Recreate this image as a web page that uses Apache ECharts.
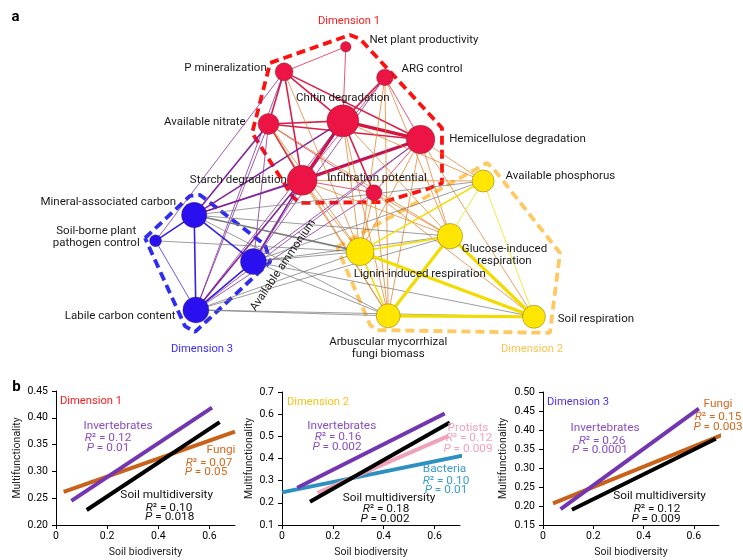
<!DOCTYPE html>
<html><head><meta charset="utf-8">
<script src="https://cdn.jsdelivr.net/npm/echarts@6/dist/echarts.min.js"></script>
<style>html,body{margin:0;padding:0;background:#fff}#c{width:743px;height:560px}</style>
</head><body><div id="c"></div>
<script>
const F = 'Roboto, "Liberation Sans", Arial, sans-serif';

// ---------------- Panel a : network data ----------------
const nodeKeys = ['NPP','Pmin','ARG','Chitin','Nitrate','Hemi','Starch','Infil','MinC','Pathogen','Ammonium','Labile','AvailP','Glucose','Lignin','AMF','SoilResp'];
const nodeLabels = ['Net plant productivity','P mineralization','ARG control','Chitin degradation','Available nitrate','Hemicellulose degradation','Starch degradation','Infiltration potential','Mineral-associated carbon','Soil-borne plant\npathogen control','Available ammonium','Labile carbon content','Available phosphorus','Glucose-induced\nrespiration','Lignin-induced respiration','Arbuscular mycorrhizal\nfungi biomass','Soil respiration'];
const nodeDimension = [1,1,1,1,1,1,1,1,3,3,3,3,2,2,2,2,2];
// network layout coordinates (0-100 layout frame)
const layoutX = [49.0,34.3,58.3,48.3,30.6,66.8,38.6,55.7,12.9,3.7,27.0,13.3,81.7,73.8,52.4,59.1,93.8];
const layoutY = [94.6,86.5,84.7,70.7,69.7,64.7,51.5,47.5,40.3,32.0,25.3,9.7,51.3,33.5,28.5,7.8,7.5];
const nodeWeight = [5.3,9,8.3,16,10.5,14.3,15,8,12.7,6,13,13,11,12.7,14,12,11.5];
const edges = [
 // dimension 1 internal
 ['NPP','Pmin',1],['NPP','Chitin',1],['Pmin','Chitin',2],['Pmin','Nitrate',2],['Pmin','Starch',2],['Pmin','Hemi',2],
 ['ARG','Chitin',2],['ARG','Hemi',1],['ARG','Starch',1],['Chitin','Nitrate',2],['Chitin','Hemi',3],['Chitin','Starch',3],
 ['Chitin','Infil',2],['Nitrate','Hemi',2],['Nitrate','Starch',2],['Nitrate','Infil',1],['Starch','Hemi',3],['Starch','Infil',1],['Hemi','Infil',1],
 // dimension 1 - dimension 3
 ['Nitrate','MinC',2],['Nitrate','Labile',1],['Nitrate','Ammonium',1],['Chitin','MinC',2],['Chitin','Labile',1],['Chitin','Ammonium',1],
 ['Starch','MinC',2],['Starch','Ammonium',2],['Starch','Labile',2],['Hemi','Ammonium',1],['Hemi','Labile',1],['Hemi','MinC',1],
 ['Pmin','Pathogen',1],['Infil','Labile',1],['Pmin','Labile',1],['ARG','Ammonium',1],
 // dimension 1 - dimension 2
 ['Chitin','Lignin',1],['Chitin','AMF',1],['Chitin','Glucose',1],['Chitin','AvailP',1],['Hemi','AvailP',1],['Hemi','Glucose',1],
 ['Hemi','SoilResp',1],['Hemi','Lignin',1],['Hemi','AMF',1],['Starch','Lignin',1],['Starch','AMF',1],['Starch','Glucose',1],
 ['Starch','AvailP',1],['Infil','Lignin',1],['Infil','Glucose',1],['Infil','AMF',1],['Nitrate','Lignin',1],['Nitrate','AMF',1],
 ['Nitrate','Glucose',1],['ARG','Lignin',1],['ARG','Glucose',1],['ARG','AMF',1],['Pmin','Lignin',1],['Infil','SoilResp',1],
 // dimension 2 - dimension 3
 ['MinC','Lignin',2],['MinC','Glucose',1],['MinC','AvailP',1],['MinC','AMF',1],['Pathogen','Lignin',1],['Labile','Lignin',1],
 ['Labile','Glucose',1],['Labile','AMF',1],['Labile','SoilResp',1],['Ammonium','Lignin',1],['Ammonium','Glucose',1],
 ['Ammonium','AMF',1],['Ammonium','AvailP',1],['Ammonium','SoilResp',1],
 // dimension 2 internal
 ['Lignin','AvailP',2],['Lignin','Glucose',2],['Lignin','AMF',2],['Lignin','SoilResp',3],['Glucose','AMF',3],
 ['Glucose','SoilResp',3],['AMF','SoilResp',3],['AvailP','Glucose',1],['AvailP','SoilResp',1],
 // dimension 3 internal
 ['MinC','Pathogen',2],['MinC','Ammonium',2],['MinC','Labile',2],['Labile','Ammonium',2],['Labile','Pathogen',1]
];
const hullDim1 = [[31.0,89.4],[50.0,98.4],[52.4,97.1],[71.9,68.4],[71.9,50.6],[69.0,49.0],[57.9,44.5],[38.1,44.2],[36.4,46.1],[26.7,66.8],[31.0,89.4]];
const hullDim2 = [[46.9,30.0],[82.6,57.1],[84.0,55.5],[100.0,28.1],[97.6,2.3],[56.4,3.2],[54.8,4.8],[46.9,30.0]];
const hullDim3 = [[1.2,32.9],[11.9,46.5],[14.3,46.8],[29.8,30.6],[31.0,25.2],[13.1,2.6],[10.7,4.5],[1.2,32.9]];

// ---------------- Panel b : regression data ----------------
const xTickValues = [0, 0.2, 0.4, 0.6];
const dim1Fungi = [[0.03,0.262],[0.70,0.374]];
const dim1Invertebrates = [[0.06,0.245],[0.61,0.419]];
const dim1Multidiversity = [[0.12,0.228],[0.64,0.392]];
const dim2Bacteria = [[0.0,0.247],[0.72,0.415]];
const dim2Protists = [[0.14,0.245],[0.655,0.502]];
const dim2Invertebrates = [[0.06,0.268],[0.64,0.603]];
const dim2Multidiversity = [[0.11,0.205],[0.66,0.562]];
const dim3Fungi = [[0.04,0.207],[0.73,0.392]];
const dim3Invertebrates = [[0.07,0.192],[0.62,0.456]];
const dim3Multidiversity = [[0.115,0.19],[0.687,0.377]];
const dim1Stats = [['Invertebrates','0.12','0.01'],['Fungi','0.07','0.05'],['Soil multidiversity','0.10','0.018']];
const dim2Stats = [['Invertebrates','0.16','0.002'],['Protists','0.12','0.009'],['Bacteria','0.10','0.01'],['Soil multidiversity','0.18','0.002']];
const dim3Stats = [['Invertebrates','0.26','0.0001'],['Fungi','0.15','0.003'],['Soil multidiversity','0.12','0.009']];
const yRange1 = [0.20, 0.45, 0.05];
const yRange2 = [0.1, 0.7, 0.1];
const yRange3 = [0.15, 0.50, 0.05];

// ---------------- styles ----------------
const dimColor = {1:'#ec1445', 2:'#ffe600', 3:'#2a10ee'};
const pairColor = {'1-1':'#d5153f','1-2':'#e07a22','1-3':'#7b1896','2-2':'#f2dc00','2-3':'#767676','3-3':'#2a16dc'};
const wWidth = {1:0.85, 2:1.6, 3:3.2};
const wOpacity = {1:0.85, 2:0.95, 3:1};
const labelCfg = {
 NPP:{position:'right',distance:18,offset:[0,-7]},
 Pmin:{position:'left',distance:8,offset:[0,-4]},
 ARG:{position:'right',distance:8,offset:[0,-8]},
 Chitin:{position:'top',distance:0},
 Nitrate:{position:'left',distance:12,offset:[0,-2]},
 Hemi:{position:'right',distance:14},
 Starch:{position:'left',distance:0},
 Infil:{position:'top',distance:0,offset:[3,0]},
 MinC:{position:'left',distance:5,offset:[0,-13]},
 Pathogen:{position:'left',distance:9,offset:[-44,-4],align:'center',lineHeight:12},
 Ammonium:{position:[43,17],rotate:56,align:'center',verticalAlign:'middle'},
 Labile:{position:'left',distance:7,offset:[0,6]},
 AvailP:{position:'right',distance:11,offset:[0,-5]},
 Glucose:{position:[67.5,32],align:'center',verticalAlign:'middle',lineHeight:12.4},
 Lignin:{position:[74,37],align:'center',verticalAlign:'middle'},
 AMF:{position:'bottom',distance:8,lineHeight:12},
 SoilResp:{position:'right',distance:12,offset:[0,2]}
};
const dimOf = {};
nodeKeys.forEach((k,i)=>dimOf[k]=nodeDimension[i]);

const nodes = nodeKeys.map((k,i)=>({
  name:k, value:[layoutX[i], layoutY[i]], symbolSize: nodeWeight[i]*2,
  itemStyle:{color:dimColor[nodeDimension[i]], borderColor:'rgba(60,40,20,0.55)', borderWidth:0.6},
  label:Object.assign({show:true, formatter:nodeLabels[i], color:'#1a1a1a', fontSize:11.5, fontFamily:F}, labelCfg[k])
}));
const links = edges.map(e=>{
  const a = dimOf[e[0]], b = dimOf[e[1]];
  const key = Math.min(a,b)+'-'+Math.max(a,b);
  return {source:e[0], target:e[1], lineStyle:{width:wWidth[e[2]], color:pairColor[key], opacity:wOpacity[e[2]], curveness:0}};
});

function hull(data, color){
  return {type:'line', xAxisIndex:3, yAxisIndex:3, data, symbol:'none', clip:false, silent:true, z:1,
    lineStyle:{color, width:3.8, type:[9,5]}};
}

function mkX(gi){
  return {type:'value', gridIndex:gi, min:0, max:0.7, interval:0.2,
    name:'Soil biodiversity', nameLocation:'middle', nameGap:22,
    nameTextStyle:{fontSize:10.5, color:'#222', fontFamily:F},
    axisLine:{show:true, lineStyle:{color:'#000', width:1}},
    axisTick:{show:true, length:4, lineStyle:{color:'#000'}, customValues:xTickValues},
    axisLabel:{color:'#000', fontSize:10.5, fontFamily:F, margin:6, customValues:xTickValues,
      formatter:v=> v===0 ? '0' : v.toFixed(1)},
    splitLine:{show:false}};
}
function mkY(gi, r, digits, gap){
  return {type:'value', gridIndex:gi, min:r[0], max:r[1], interval:r[2],
    name:'Multifunctionality', nameLocation:'middle', nameGap:gap, nameRotate:90,
    nameTextStyle:{fontSize:10.5, color:'#222', fontFamily:F},
    axisLine:{show:true, lineStyle:{color:'#000', width:1}},
    axisTick:{show:true, length:4, lineStyle:{color:'#000'}},
    axisLabel:{color:'#000', fontSize:10.5, fontFamily:F, margin:8, formatter:v=>v.toFixed(digits)},
    splitLine:{show:false}};
}
function reg(gi, data, color, z){
  return {type:'line', xAxisIndex:gi, yAxisIndex:gi, data, symbol:'none', clip:false, silent:true, z:z||2,
    lineStyle:{color, width:4, cap:'butt'}};
}

const C = {purpleLine:'#7436b0', purpleText:'#8a4ec4', orangeLine:'#c8621a', orangeText:'#d2691e',
  pinkLine:'#f0a2b9', pinkText:'#f2a2bd', blueLine:'#2e90c0', blueText:'#3a9cd2', black:'#111'};

function T(x, y, text, color, size, align, weight){
  return {type:'text', x, y, silent:true, z:10,
    style:{text, fill:color, fontSize:size||11.8, fontFamily:F, fontWeight:weight||'normal',
      align:align||'center', verticalAlign:'middle',
      rich:{i:{fontStyle:'italic', fontSize:size||11.8, fontFamily:F, fill:color}}}};
}
function statBlock(s, color, x1, y1, x2, y2, x3, y3){
  return [T(x1,y1,s[0],color), T(x2,y2,'{i|R}\u00b2 = '+s[1],color), T(x3,y3,'{i|P} = '+s[2],color)];
}

const graphics = [
  T(15.5,17,'a','#000',15,'center','bold'),
  T(16.5,387,'b','#000',15,'center','bold'),
  T(349,21,'Dimension 1','#ff1a1a',11.2),
  T(202,349,'Dimension 3','#3d2bff',11.2),
  T(532,349,'Dimension 2','#ffc34d',11.2),
  T(60,401,'Dimension 1','#ff1a1a',11.2,'left'),
  T(287,402,'Dimension 2','#f8c21a',11.2,'left'),
  T(547,402,'Dimension 3','#4a2ff0',11.2,'left'),
  ...statBlock(dim1Stats[0], C.purpleText, 118,425.7, 108,437.7, 108,447.7),
  ...statBlock(dim1Stats[1], C.orangeText, 221,450, 209,463.3, 206,472.3),
  ...statBlock(dim1Stats[2], C.black, 166.7,495, 169,507.7, 169.7,517.3),
  ...statBlock(dim2Stats[0], C.purpleText, 341.7,426, 338,437.3, 337,446.7),
  ...statBlock(dim2Stats[1], C.pinkText, 468,427.7, 469,438.3, 468,449),
  ...statBlock(dim2Stats[2], C.blueText, 444.5,469.3, 446,481, 446,490.3),
  ...statBlock(dim2Stats[3], C.black, 389,498.3, 386,509.3, 385,519),
  ...statBlock(dim3Stats[0], C.purpleText, 605,428.3, 602,440.7, 600,450),
  ...statBlock(dim3Stats[1], C.orangeText, 718,404.3, 718,416.7, 718,426.7),
  ...statBlock(dim3Stats[2], C.black, 659.5,496, 657,509, 656,519)
];

const option = {
  animation:false,
  backgroundColor:'#fff',
  textStyle:{fontFamily:F},
  grid:[
    {left:56, top:391, width:179, height:134, containLabel:false, outerBoundsMode:'none'},
    {left:282, top:392, width:178, height:133, containLabel:false, outerBoundsMode:'none'},
    {left:543, top:392, width:176, height:133, containLabel:false, outerBoundsMode:'none'},
    {left:140, top:30, width:420, height:310, containLabel:false, outerBoundsMode:'none'}
  ],
  xAxis:[mkX(0), mkX(1), mkX(2), {type:'value', gridIndex:3, min:0, max:100, show:false}],
  yAxis:[mkY(0,yRange1,2,33), mkY(1,yRange2,1,27.5), mkY(2,yRange3,2,34), {type:'value', gridIndex:3, min:0, max:100, show:false}],
  series:[
    hull(hullDim1,'#ff1010'), hull(hullDim2,'#ffc860'), hull(hullDim3,'#2d2df2'),
    {type:'graph', coordinateSystem:'cartesian2d', xAxisIndex:3, yAxisIndex:3, z:3, silent:true,
     symbol:'circle', data:nodes, links, edgeSymbol:['none','none'], emphasis:{disabled:true},
     label:{show:true, color:'#1a1a1a', fontSize:11.5, fontFamily:F}},
    reg(0, dim1Fungi, C.orangeLine), reg(0, dim1Invertebrates, C.purpleLine), reg(0, dim1Multidiversity, '#000'),
    reg(1, dim2Bacteria, C.blueLine), reg(1, dim2Protists, C.pinkLine), reg(1, dim2Invertebrates, C.purpleLine), reg(1, dim2Multidiversity, '#000'),
    reg(2, dim3Fungi, C.orangeLine), reg(2, dim3Invertebrates, C.purpleLine), reg(2, dim3Multidiversity, '#000')
  ],
  graphic:graphics
};
const chart = echarts.init(document.getElementById('c'), null, {renderer:'canvas'});
chart.setOption(option);
</script></body></html>
